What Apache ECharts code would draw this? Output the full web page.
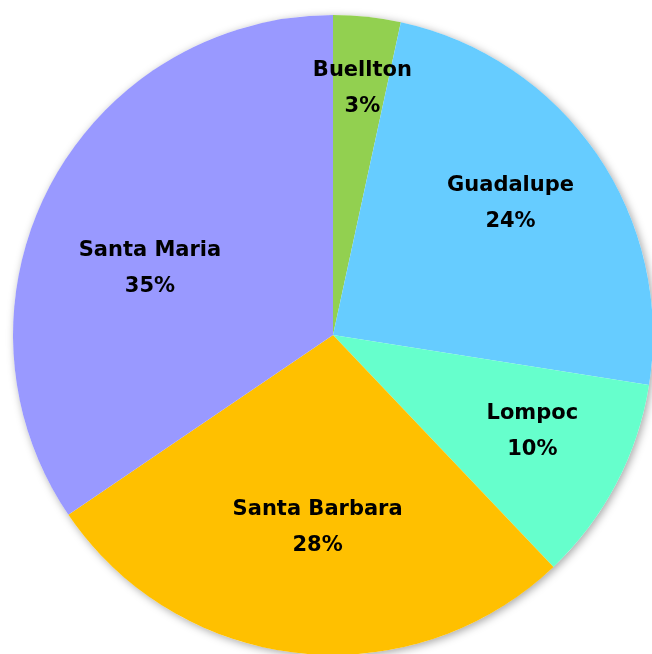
<!DOCTYPE html>
<html><head><meta charset="utf-8">
<script src="https://cdn.jsdelivr.net/npm/echarts@6/dist/echarts.min.js"></script>
<style>html,body{margin:0;padding:0;background:#fff}#c{width:652px;height:654px}</style>
</head><body><div id="c"></div>
<script>
const categories = ['Buellton', 'Guadalupe', 'Lompoc', 'Santa Barbara', 'Santa Maria'];
const values = [3.4, 24.1, 10.4, 27.6, 34.5];
const colors = ['#92D050', '#66CCFF', '#66FFCC', '#FFC000', '#9999FF'];
const labelOffsets = [[12, -84], [43, -39], [55, 21], [2, 30], [-39, 10]];

const chart = echarts.init(document.getElementById('c'));
chart.setOption({
  animation: false,
  series: [{
    type: 'pie',
    silent: true,
    z: 1,
    center: [333, 335],
    radius: [0, 320],
    label: { show: false },
    labelLine: { show: false },
    itemStyle: { color: '#ffffff', shadowBlur: 8, shadowColor: 'rgba(0,0,0,0.35)', shadowOffsetX: 2, shadowOffsetY: 2 },
    data: [{ name: 'shadow', value: 1 }]
  }, {
    type: 'pie',
    z: 2,
    center: [333, 335],
    radius: [0, 320],
    startAngle: 90,
    clockwise: true,
    percentPrecision: 0,
    label: {
      position: 'inside',
      formatter: '{b}\n{d}%',
      fontFamily: 'DejaVu Sans',
      fontWeight: 'bold',
      fontSize: 21,
      lineHeight: 36,
      color: '#000'
    },
    labelLine: { show: false },
    emphasis: { disabled: true },
    data: categories.map((c, i) => ({
      name: c, value: values[i],
      itemStyle: { color: colors[i] },
      label: { offset: labelOffsets[i] }
    }))
  }]
});
</script></body></html>
